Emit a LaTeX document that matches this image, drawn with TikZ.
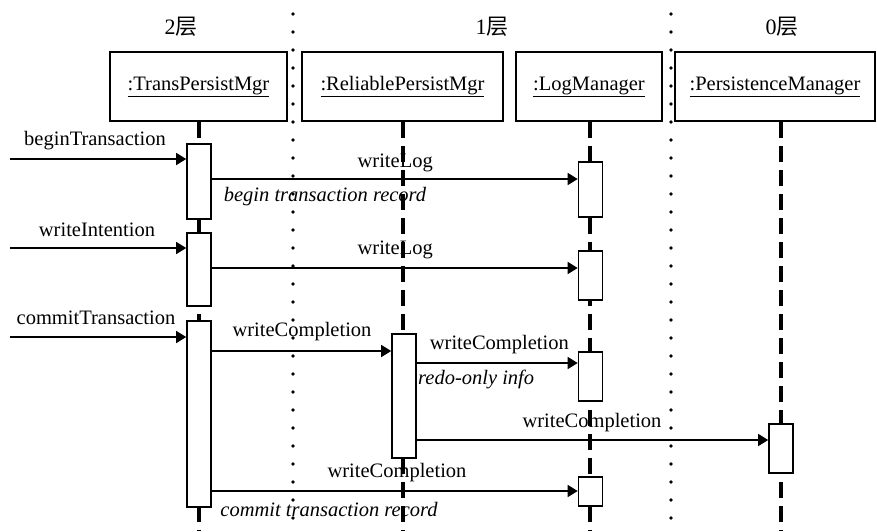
\documentclass[tikz,border=0pt]{standalone}
\usepackage{fontspec}
\setmainfont{Liberation Serif}
\newfontfamily\cjk{Noto Sans CJK SC}
\usetikzlibrary{arrows.meta}

\begin{document}
\begin{tikzpicture}[x=1pt,y=-1pt,
  font=\fontsize{20.5}{24}\selectfont,
  obj/.style={draw, line width=1.6pt, inner sep=0pt, minimum height=69pt},
  act/.style={draw, fill=white, line width=1.6pt, inner sep=0pt, minimum width=24pt},
  life/.style={line width=3.4pt, dash pattern=on 16pt off 8pt},
  sep/.style={line width=3.8pt, line cap=round, dash pattern=on 0pt off 18pt},
  msg/.style={line width=1.4pt, -{Triangle[length=10pt,width=12pt]}},
  lbl/.style={inner sep=0pt},
  note/.style={inner sep=0pt, font=\fontsize{20.5}{24}\selectfont\itshape},
  layer/.style={inner sep=0pt, font=\fontsize{22}{26}\selectfont}]

\useasboundingbox (0,0) rectangle (877,531);

% layer titles
\node[layer] (L2) at (181,27) {2{\cjk 层}};
\node[layer] (L1) at (492,27) {1{\cjk 层}};
\node[layer] (L0) at (782,27) {0{\cjk 层}};

% layer separators
\coordinate (d1t) at (293,14);  \coordinate (d1b) at (293,531);
\coordinate (d2t) at (671,14);  \coordinate (d2b) at (671,531);
\draw[sep] (d1t) -- (d1b);
\draw[sep] (d2t) -- (d2b);

% objects
\node[obj, minimum width=177pt] (ob1) at (198.5,86.5) {\underline{:TransPersistMgr}};
\node[obj, minimum width=201pt] (ob2) at (402.5,86.5) {\underline{:ReliablePersistMgr}};
\node[obj, minimum width=146pt] (ob3) at (589,86.5) {\underline{:LogManager}};
\node[obj, minimum width=200pt] (ob4) at (775,86.5) {\underline{:PersistenceManager}};

% lifeline anchors
\coordinate (x1) at (199,531);
\coordinate (x2) at (403,531);
\coordinate (x3) at (590,531);
\coordinate (x4) at (781,531);
\draw[life] (x1 |- ob1.south) -- (x1);
\draw[life] (x2 |- ob2.south) -- (x2);
\draw[life] (x3 |- ob3.south) -- (x3);
\draw[life] (x4 |- ob4.south) -- (x4);

% activations
\node[act, minimum height=75pt]  (t1) at (199,181.5) {};
\node[act, minimum height=73pt]  (t2) at (199,269.5) {};
\node[act, minimum height=186pt] (t3) at (199,414) {};
\node[act, minimum height=124pt] (r1) at (404,396) {};
\node[act, minimum height=55pt]  (l1) at (590.5,189.5) {};
\node[act, minimum height=49pt]  (l2) at (590.5,275.5) {};
\node[act, minimum height=49pt]  (l3) at (590.5,376.5) {};
\node[act, minimum height=29pt]  (l4) at (590.5,491.5) {};
\node[act, minimum height=49pt]  (p1) at (781,448.5) {};

% incoming calls
\coordinate (s1) at (10,159);
\coordinate (s2) at (10,248);
\coordinate (s3) at (10,337);
\draw[msg] (s1) -- (t1.west |- s1);
\draw[msg] (s2) -- (t2.west |- s2);
\draw[msg] (s3) -- (t3.west |- s3);
\node[lbl] (n1) at (95,141) {beginTransaction};
\node[lbl] (n2) at (97,230) {writeIntention};
\node[lbl] (n3) at (96,318) {commitTransaction};

% writeLog calls
\coordinate (y1) at (0,179);
\coordinate (y2) at (0,268);
\draw[msg] (t1.east |- y1) -- (l1.west |- y1);
\draw[msg] (t2.east |- y2) -- (l2.west |- y2);
\node[lbl, anchor=east] (w1) at (433,163) {writeLog};
\node[note] (c1) at (325,197) {begin transaction record};
\node[lbl, anchor=east] (w2) at (433,250) {writeLog};

% writeCompletion calls
\coordinate (y3) at (0,351);
\coordinate (y4) at (0,363);
\coordinate (y5) at (0,440);
\coordinate (y6) at (0,491);
\draw[msg] (t3.east |- y3) -- (r1.west |- y3);
\draw[msg] (r1.east |- y4) -- (l3.west |- y4);
\draw[msg] (r1.east |- y5) -- (p1.west |- y5);
\draw[msg] (t3.east |- y6) -- (l4.west |- y6);
\node[lbl] (w3) at (302,332) {writeCompletion};
\node[lbl, anchor=east] (w4) at (569,345) {writeCompletion};
\node[note, anchor=west] (c2) at (418,379) {redo-only info};
\node[lbl] (w5) at (592,423) {writeCompletion};
\node[lbl] (w6) at (397,473) {writeCompletion};
\node[note] (c3) at (329,509) {commit transaction record};

\end{tikzpicture}
\end{document}
